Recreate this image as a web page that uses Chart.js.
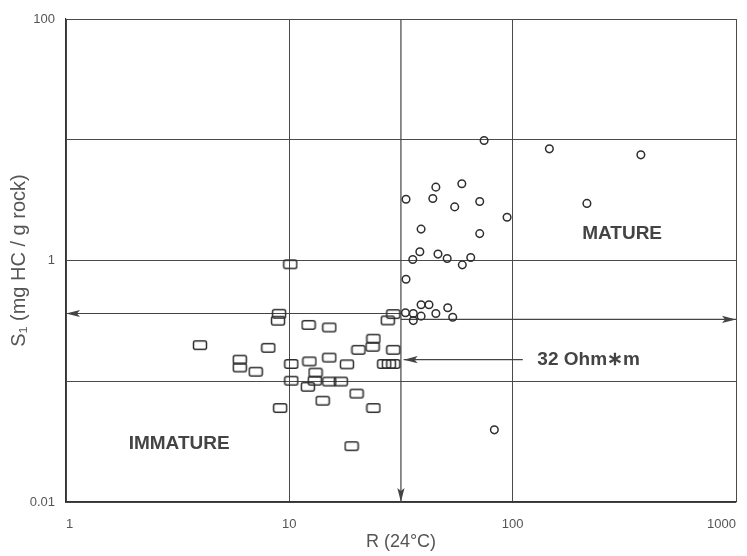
<!DOCTYPE html>
<html>
<head>
<meta charset="utf-8">
<script src="https://cdn.jsdelivr.net/npm/chart.js@4.4.1/dist/chart.umd.min.js"></script>
<style>
  body { margin: 0; background: #fff; }
  #wrap { width: 747px; height: 556px; }
</style>
</head>
<body>
<div id="wrap"><canvas id="chart"></canvas></div>
<script>
// immature samples (squares): resistivity R (ohm*m) and S1 (mg HC / g rock)
const immatureR = [10.1, 9.0, 8.9, 3.98, 8.05, 6.0, 6.0, 7.07, 10.2, 10.2, 9.1,
    29.2, 27.6, 12.2, 15.1, 23.8, 23.6, 20.4, 29.2, 15.1, 12.3, 18.1, 26.6, 27.9,
    29.2, 13.1, 13.0, 15.1, 17.0, 12.1, 20.0, 14.1, 23.8, 19.0];
const immatureS1 = [0.93, 0.362, 0.317, 0.199, 0.189, 0.151, 0.130, 0.120, 0.139, 0.101, 0.060,
    0.36, 0.319, 0.293, 0.279, 0.225, 0.193, 0.182, 0.182, 0.157, 0.146, 0.138, 0.139, 0.139,
    0.139, 0.118, 0.101, 0.0995, 0.0995, 0.090, 0.079, 0.069, 0.060, 0.029];

// mature samples (circles)
const matureR = [74.5, 146, 375, 215, 94.4, 33.3, 45.3, 43.9, 59.2, 55.0, 71.2, 71.2,
    38.9, 38.4, 35.7, 46.3, 50.9, 59.5, 64.9, 33.3,
    38.9, 42.2, 51.2, 33.1, 35.9, 38.9, 45.3, 35.9, 53.9, 82.8];
const matureS1 = [9.85, 8.41, 7.5, 2.97, 2.28, 3.22, 4.05, 3.26, 4.32, 2.78, 3.08, 1.67,
    1.82, 1.18, 1.02, 1.13, 1.04, 0.92, 1.06, 0.70,
    0.43, 0.43, 0.406, 0.369, 0.364, 0.346, 0.364, 0.318, 0.339, 0.0396];

// cutoff arrows
const cutoffR = 31.6;
const leftArrowR = [cutoffR, 1];
const leftArrowS1 = [0.364, 0.364];
const rightArrowR = [cutoffR, 1000];
const rightArrowS1 = [0.325, 0.325];
const downArrowR = [cutoffR, cutoffR];
const downArrowS1 = [100, 0.01];
const labelArrowR = [111, 32.5];
const labelArrowS1 = [0.151, 0.151];

// text notes
const noteText = ['MATURE', 'IMMATURE', '32 Ohm\u2217m'];
const noteR = [309, 3.21, 129];
const noteS1 = [1.67, 0.0305, 0.151];

// ticks
const xTicks = [1, 10, 100, 1000];
const yTicks = [0.01, 0.1, 1, 10, 100];
const yLabelled = [0.01, 1, 100];

const ink = '#2e2e2e';
const lineInk = '#444';
const textInk = '#555';
const fontFamily = '"Liberation Sans", Arial, sans-serif';

function toPoints(xs, ys) {
    return xs.map((x, i) => ({ x: x, y: ys[i] }));
}

// rounded rectangle marker for the immature samples
function makeRoundRect() {
    const c = document.createElement('canvas');
    c.width = 16;
    c.height = 12;
    const g = c.getContext('2d');
    g.strokeStyle = ink;
    g.lineWidth = 1.5;
    g.beginPath();
    g.roundRect(1.5, 1.75, 13, 8.5, 2);
    g.stroke();
    return c;
}

function arrowLine(xs, ys) {
    return {
        data: toPoints(xs, ys),
        showLine: true,
        arrow: true,
        borderColor: lineInk,
        borderWidth: 1.2,
        pointRadius: 0,
        fill: false
    };
}

// filled arrowheads at the last point of datasets flagged with arrow
const arrowHeads = {
    id: 'arrowHeads',
    afterDatasetsDraw(chart) {
        const ctx = chart.ctx;
        chart.data.datasets.forEach((ds, i) => {
            if (!ds.arrow) return;
            const pts = chart.getDatasetMeta(i).data;
            const a = pts[pts.length - 2];
            const b = pts[pts.length - 1];
            const ang = Math.atan2(b.y - a.y, b.x - a.x);
            ctx.save();
            ctx.translate(b.x, b.y);
            ctx.rotate(ang);
            ctx.fillStyle = lineInk;
            ctx.beginPath();
            ctx.moveTo(0, 0);
            ctx.lineTo(-14, -3.6);
            ctx.lineTo(-11, 0);
            ctx.lineTo(-14, 3.6);
            ctx.closePath();
            ctx.fill();
            ctx.restore();
        });
    }
};

const notes = {
    id: 'notes',
    afterDatasetsDraw(chart) {
        const ctx = chart.ctx;
        const xs = chart.scales.x;
        const ys = chart.scales.y;
        const aligns = ['center', 'center', 'left'];
        ctx.save();
        ctx.fillStyle = '#444';
        ctx.font = 'bold 19px ' + fontFamily;
        ctx.textBaseline = 'middle';
        noteText.forEach((t, i) => {
            ctx.textAlign = aligns[i];
            ctx.fillText(t, xs.getPixelForValue(noteR[i]), ys.getPixelForValue(noteS1[i]));
        });
        ctx.restore();
    }
};

new Chart(document.getElementById('chart'), {
    type: 'scatter',
    data: {
        datasets: [
            {
                data: toPoints(immatureR, immatureS1),
                pointStyle: makeRoundRect(),
                pointRadius: 5
            },
            {
                data: toPoints(matureR, matureS1),
                pointStyle: 'circle',
                pointRadius: 3.8,
                borderWidth: 1.5,
                borderColor: ink,
                backgroundColor: 'rgba(255,255,255,0)'
            },
            arrowLine(downArrowR, downArrowS1),
            arrowLine(leftArrowR, leftArrowS1),
            arrowLine(rightArrowR, rightArrowS1),
            arrowLine(labelArrowR, labelArrowS1)
        ]
    },
    options: {
        responsive: true,
        maintainAspectRatio: false,
        animation: false,
        layout: { padding: { top: 19, right: 11, left: 0, bottom: 0 } },
        plugins: {
            legend: { display: false },
            tooltip: { enabled: false }
        },
        scales: {
            x: {
                type: 'logarithmic',
                min: 1,
                max: 1000,
                afterBuildTicks: (scale) => { scale.ticks = xTicks.map(v => ({ value: v })); },
                afterFit: (scale) => {
                    scale.height = 54;
                    scale.paddingLeft = 0;
                    scale.paddingRight = 0;
                },
                grid: { color: '#4a4a4a', lineWidth: 1, drawTicks: false },
                border: { color: '#333', width: 1.2 },
                ticks: {
                    align: 'inner',
                    padding: 15,
                    color: textInk,
                    font: { family: fontFamily, size: 13 },
                    callback: (v) => String(v)
                },
                title: {
                    display: true,
                    text: 'R (24°C)',
                    color: textInk,
                    font: { family: fontFamily, size: 18 },
                    padding: { top: 0, bottom: 3 }
                }
            },
            y: {
                type: 'logarithmic',
                min: 0.01,
                max: 100,
                afterBuildTicks: (scale) => { scale.ticks = yTicks.map(v => ({ value: v })); },
                afterFit: (scale) => { scale.width = 66; },
                grid: { color: '#4a4a4a', lineWidth: 1, drawTicks: false },
                border: { color: '#333', width: 1.2 },
                ticks: {
                    padding: 11,
                    color: textInk,
                    font: { family: fontFamily, size: 13 },
                    callback: (v) => yLabelled.includes(v) ? String(v) : ''
                },
                title: {
                    display: true,
                    text: 'S\u2081 (mg HC / g rock)',
                    color: textInk,
                    font: { family: fontFamily, size: 20 },
                    padding: { top: 7, bottom: 0 }
                }
            }
        }
    },
    plugins: [arrowHeads, notes]
});
</script>
</body>
</html>
